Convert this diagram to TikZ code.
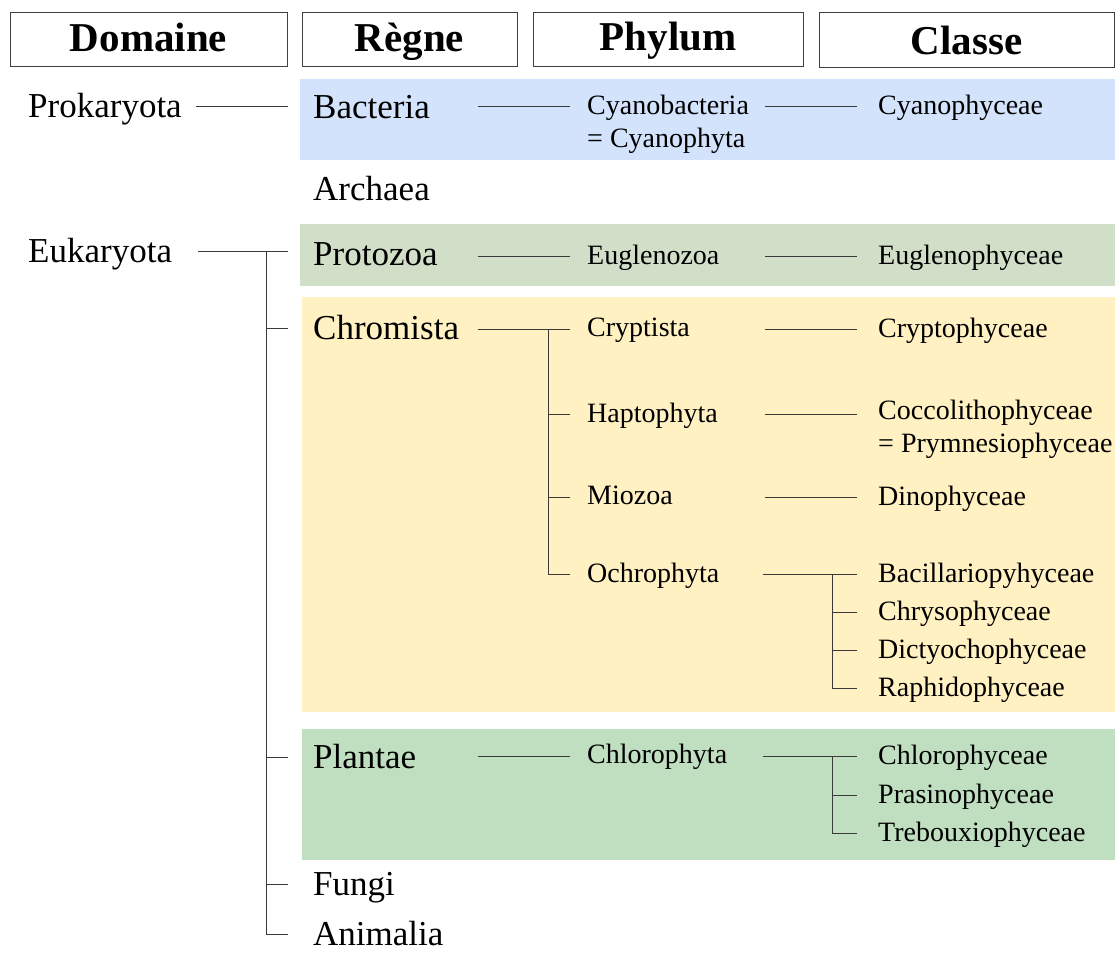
\documentclass[tikz,border=0pt]{standalone}
\usepackage{fontspec}
\setmainfont{Liberation Serif}
\definecolor{bandblue}{HTML}{D3E3FB}
\definecolor{bandgrey}{HTML}{D1DFC9}
\definecolor{bandyellow}{HTML}{FFF1C2}
\definecolor{bandgreen}{HTML}{C0DFC0}
\definecolor{linecol}{HTML}{3A3A3A}
\begin{document}
\begin{tikzpicture}[x=1pt,y=-1pt,
  hdrbox/.style={draw=black!75, line width=1pt},
  hdr/.style={anchor=base, inner sep=0pt, font=\fontsize{41}{48}\selectfont\bfseries},
  big/.style={anchor=west, inner sep=0pt, text height=28pt, text depth=5pt, font=\fontsize{35}{42}\selectfont},
  small/.style={anchor=west, inner sep=0pt, text height=22pt, text depth=6pt, font=\fontsize{28}{33}\selectfont},
  conn/.style={draw=linecol, line width=1pt}]
\useasboundingbox (0,0) rectangle (1115,953);
% colour bands
\fill[bandblue] (300,79) rectangle (1115,160);
\fill[bandgrey] (300,224) rectangle (1115,286);
\fill[bandyellow] (302,297) rectangle (1115,712);
\fill[bandgreen] (302,729) rectangle (1115,860);
% headers
\draw[hdrbox] (10,12) rectangle (287,66);
\node[hdr] (hdom) at (148.5,51) {Domaine};
\draw[hdrbox] (302,12) rectangle (517,66);
\node[hdr] (hreg) at (409.5,51) {Règne};
\draw[hdrbox] (533,12) rectangle (803,66);
\node[hdr] (hphy) at (668,50) {Phylum};
\draw[hdrbox] (819,12) rectangle (1114,67);
\node[hdr] (hcla) at (966.5,54) {Classe};
% Domaine
\node[big] (prok) at (28,106) {Prokaryota};
\node[big] (euk) at (28,251) {Eukaryota};
% Regne
\node[big] (bact) at (313,107) {Bacteria};
\node[big] (arch) at (313,189) {Archaea};
\node[big] (proto) at (313,254) {Protozoa};
\node[big] (chrom) at (313,328) {Chromista};
\node[big] (plant) at (313,757) {Plantae};
\node[big] (fungi) at (313,884) {Fungi};
\node[big, text height=23pt, text depth=0pt] (anim) at (313,934) {Animalia};
% Phylum
\node[small] (cyano) at (587,106) {Cyanobacteria};
\node[small] (cyano2) at (587,139) {= Cyanophyta};
\node[small] (eugz) at (587,256) {Euglenozoa};
\node[small] (crypt) at (587,328) {Cryptista};
\node[small] (hapto) at (587,414) {Haptophyta};
\node[small] (mio) at (587,496) {Miozoa};
\node[small] (ochro) at (587,574) {Ochrophyta};
\node[small] (chlph) at (587,755) {Chlorophyta};
% Classe
\node[small] (cyanoc) at (878,106) {Cyanophyceae};
\node[small] (eugc) at (878,256) {Euglenophyceae};
\node[small] (cryptc) at (878,329) {Cryptophyceae};
\node[small] (cocco) at (878,411) {Coccolithophyceae};
\node[small] (prym) at (878,444) {= Prymnesiophyceae};
\node[small] (dino) at (878,497) {Dinophyceae};
\node[small] (bacil) at (878,574) {Bacillariopyhyceae};
\node[small] (chrys) at (878,612) {Chrysophyceae};
\node[small] (dict) at (878,650) {Dictyochophyceae};
\node[small] (raph) at (878,688) {Raphidophyceae};
\node[small] (chlc) at (878,756) {Chlorophyceae};
\node[small] (pras) at (878,795) {Prasinophyceae};
\node[small] (treb) at (878,833) {Trebouxiophyceae};
% connectors: Prokaryota
\draw[conn] (196,0 |- prok.west) -- (288,0 |- prok.west);
\draw[conn] (478,0 |- cyano.west) -- (570,0 |- cyano.west);
\draw[conn] (765,0 |- cyano.west) -- (857,0 |- cyano.west);
% Eukaryota tree
\draw[conn] (198,0 |- euk.west) -- (288,0 |- euk.west);
\draw[conn] (266,0 |- euk.west) |- (288,0 |- anim.west);
\draw[conn] (266,0 |- chrom.west) -- (288,0 |- chrom.west);
\draw[conn] (266,0 |- plant.west) -- (288,0 |- plant.west);
\draw[conn] (266,0 |- fungi.west) -- (288,0 |- fungi.west);
% Protozoa
\draw[conn] (478,0 |- eugz.west) -- (570,0 |- eugz.west);
\draw[conn] (765,0 |- eugz.west) -- (857,0 |- eugz.west);
% Chromista
\draw[conn] (478,0 |- cryptc.west) -- (570,0 |- cryptc.west);
\draw[conn] (548,0 |- cryptc.west) |- (570,0 |- ochro.west);
\draw[conn] (548,0 |- hapto.west) -- (570,0 |- hapto.west);
\draw[conn] (548,0 |- dino.west) -- (570,0 |- dino.west);
\draw[conn] (765,0 |- cryptc.west) -- (857,0 |- cryptc.west);
\draw[conn] (765,0 |- hapto.west) -- (857,0 |- hapto.west);
\draw[conn] (765,0 |- dino.west) -- (857,0 |- dino.west);
\draw[conn] (763,0 |- ochro.west) -- (857,0 |- ochro.west);
\draw[conn] (832,0 |- bacil.west) |- (857,0 |- raph.west);
\draw[conn] (832,0 |- chrys.west) -- (857,0 |- chrys.west);
\draw[conn] (832,0 |- dict.west) -- (857,0 |- dict.west);
% Plantae
\draw[conn] (478,0 |- chlc.west) -- (570,0 |- chlc.west);
\draw[conn] (763,0 |- chlc.west) -- (857,0 |- chlc.west);
\draw[conn] (832,0 |- chlc.west) |- (857,0 |- treb.west);
\draw[conn] (832,0 |- pras.west) -- (857,0 |- pras.west);
\end{tikzpicture}
\end{document}
